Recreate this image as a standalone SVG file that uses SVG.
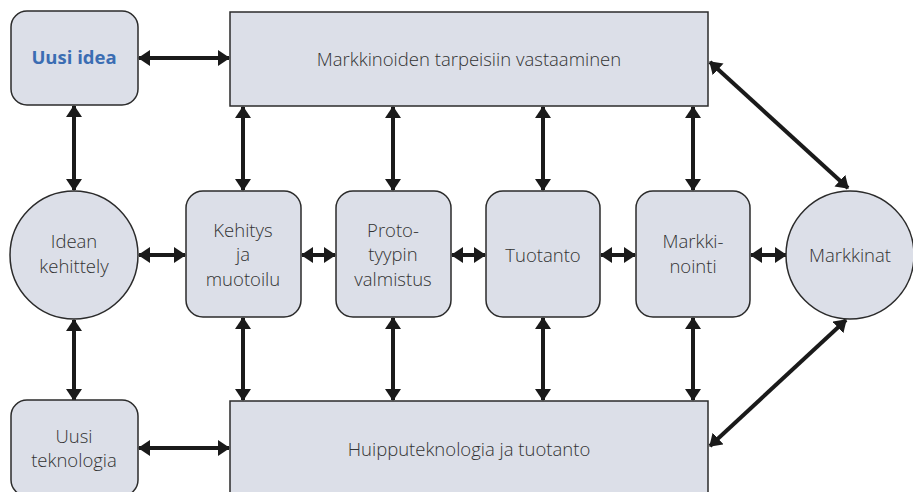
<svg xmlns="http://www.w3.org/2000/svg" width="913" height="492" viewBox="0 0 913 492">
<defs>
<marker id="ah" viewBox="0 0 12 16" refX="11" refY="8" markerWidth="12" markerHeight="16" markerUnits="userSpaceOnUse" orient="auto-start-reverse">
<path d="M0,0 L12,8 L0,16 Z" fill="#1a1a1a"/>
</marker>
<style>
.n{fill:#dcdfe8;stroke:#2b2b2b;stroke-width:1.5}
.t{font-family:"Open Sans","Noto Sans",sans-serif;font-size:18.5px;font-weight:300;fill:#333;text-anchor:middle}
.c line{stroke:#1a1a1a;stroke-width:4;marker-start:url(#ah);marker-end:url(#ah)}
</style>
</defs>
<g class="c" id="connectors">
<line x1="139" y1="58" x2="229" y2="58"/>
<line x1="74" y1="106" x2="74" y2="190"/>
<line x1="74" y1="320" x2="74" y2="400"/>
<line x1="139" y1="448" x2="229" y2="448"/>
<line x1="243" y1="107" x2="243" y2="190"/>
<line x1="393" y1="107" x2="393" y2="190"/>
<line x1="543" y1="107" x2="543" y2="190"/>
<line x1="693" y1="107" x2="693" y2="190"/>
<line x1="243" y1="318" x2="243" y2="400"/>
<line x1="393" y1="318" x2="393" y2="400"/>
<line x1="543" y1="318" x2="543" y2="400"/>
<line x1="693" y1="318" x2="693" y2="400"/>
<line x1="139" y1="255" x2="185" y2="255"/>
<line x1="302" y1="255" x2="335" y2="255"/>
<line x1="452" y1="255" x2="485" y2="255"/>
<line x1="601" y1="255" x2="635" y2="255"/>
<line x1="751" y1="255" x2="786" y2="255"/>
<line x1="710" y1="62" x2="848" y2="188"/>
<line x1="846" y1="320" x2="710" y2="446"/>
</g>
<g id="uusi-idea"><rect class="n" x="11" y="11" width="127" height="94" rx="16"/><text class="t" x="74" y="64" style="fill:#3b6db3;font-weight:700">Uusi idea</text></g>
<g id="markkinoiden"><rect class="n" x="230" y="12" width="478" height="94"/><text class="t" x="469" y="66">Markkinoiden tarpeisiin vastaaminen</text></g>
<g id="idean-kehittely"><circle class="n" cx="74" cy="255" r="64"/><text class="t" x="74" y="248">Idean</text><text class="t" x="74" y="273">kehittely</text></g>
<g id="kehitys"><rect class="n" x="186" y="191" width="115" height="126" rx="17"/><text class="t" x="243" y="237">Kehitys</text><text class="t" x="243" y="261">ja</text><text class="t" x="243" y="286">muotoilu</text></g>
<g id="proto"><rect class="n" x="336" y="191" width="115" height="126" rx="17"/><text class="t" x="393" y="237">Proto-</text><text class="t" x="393" y="261">tyypin</text><text class="t" x="393" y="286">valmistus</text></g>
<g id="tuotanto"><rect class="n" x="486" y="191" width="114" height="126" rx="17"/><text class="t" x="543" y="262">Tuotanto</text></g>
<g id="markkinointi"><rect class="n" x="636" y="191" width="114" height="126" rx="17"/><text class="t" x="693" y="248">Markki-</text><text class="t" x="693" y="273">nointi</text></g>
<g id="markkinat"><circle class="n" cx="850" cy="255" r="64"/><text class="t" x="850" y="262">Markkinat</text></g>
<g id="uusi-teknologia"><rect class="n" x="11" y="400" width="127" height="96" rx="16"/><text class="t" x="74" y="443">Uusi</text><text class="t" x="74" y="467">teknologia</text></g>
<g id="huipputeknologia"><rect class="n" x="230" y="401" width="478" height="100"/><text class="t" x="469" y="456">Huipputeknologia ja tuotanto</text></g>
</svg>
